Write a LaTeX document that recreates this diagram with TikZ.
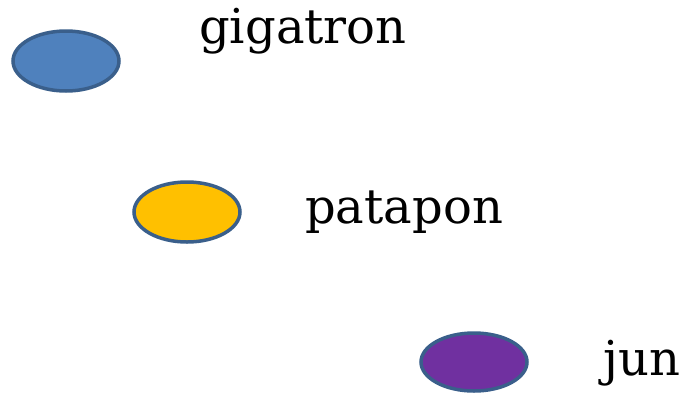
\documentclass[tikz,border=0pt]{standalone}
\usepackage{fontspec}
\setmainfont{DejaVu Serif}
\definecolor{bluefill}{HTML}{4F81BD}
\definecolor{yellowfill}{HTML}{FFC000}
\definecolor{purplefill}{HTML}{7030A0}
\definecolor{rimblue}{HTML}{3A5F8B}
\tikzset{
  blob/.style={draw=rimblue, line width=3.5pt},
  name label/.style={anchor=base west, inner sep=0pt, font=\fontsize{48}{56}\selectfont}
}
\begin{document}
\begin{tikzpicture}[x=1pt,y=-1pt]
\useasboundingbox (0,0) rectangle (685,392);

\filldraw[blob, fill=bluefill] (66,61) ellipse (53 and 30);
\node[name label] (gigatron) at (199,43) {gigatron};

\filldraw[blob, fill=yellowfill] (187,212) ellipse (53 and 30);
\node[name label] (patapon) at (305,223) {patapon};

\filldraw[blob, fill=purplefill] (474,362) ellipse (53 and 29);
\node[name label] (jun) at (603,375) {jun};
\end{tikzpicture}
\end{document}
